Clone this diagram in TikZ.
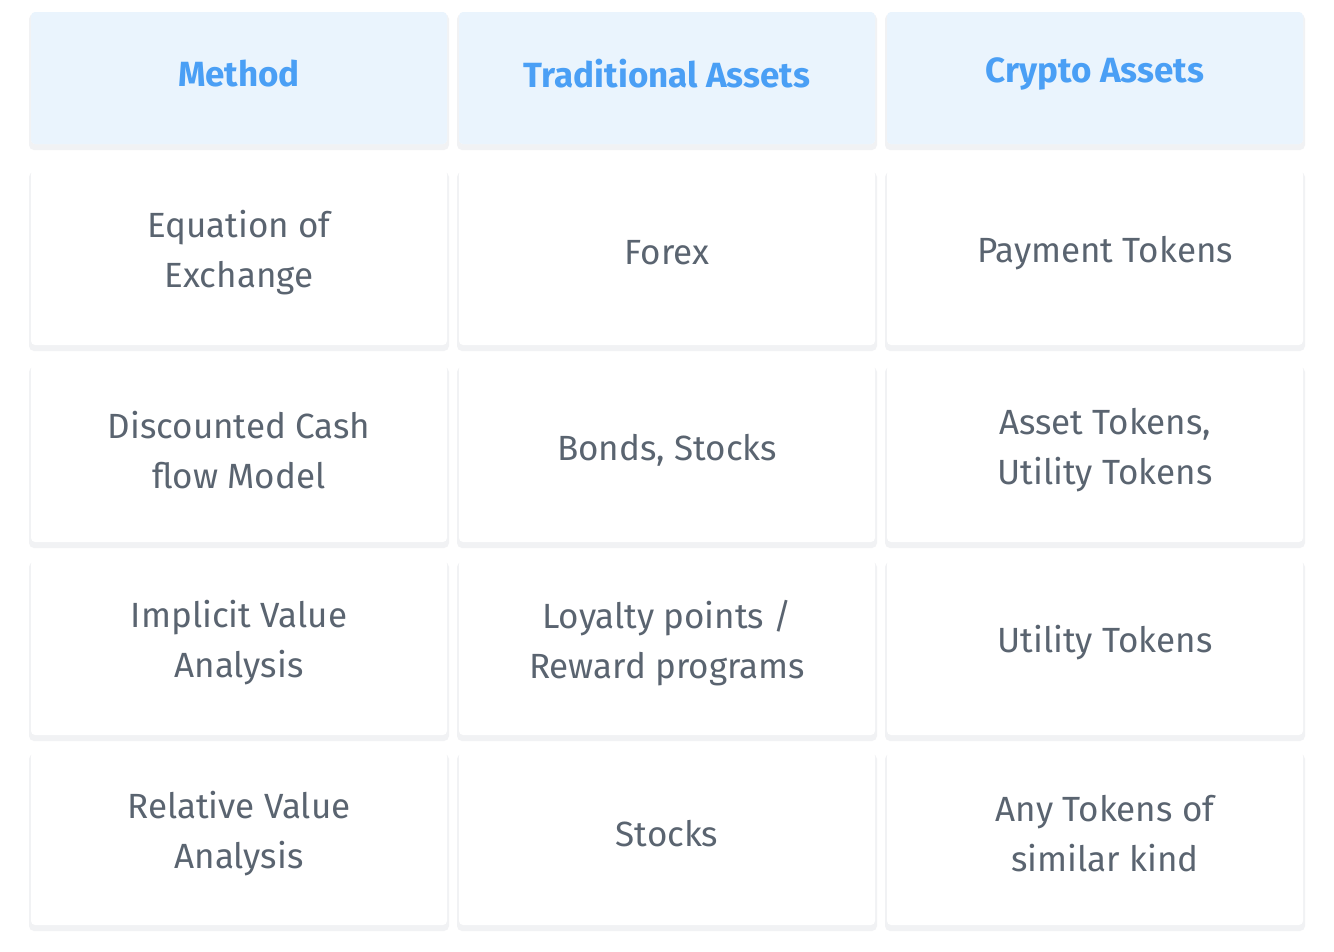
\documentclass[tikz,border=0pt]{standalone}
\usepackage{fontspec}
\setmainfont{Fira Sans}
\definecolor{hdrbg}{HTML}{EAF4FD}
\definecolor{hdrtx}{HTML}{4A9FF5}
\definecolor{celltx}{HTML}{5A6470}
\definecolor{shad}{HTML}{F1F2F4}
\begin{document}
\begin{tikzpicture}[x=1pt,y=-1pt,
  card/.style={rounded corners=4pt,align=center,inner sep=0pt,font=\fontsize{35}{50}\selectfont},
  hdr/.style={card,fill=hdrbg,text=hdrtx,font=\fontsize{35}{50}\selectfont\bfseries},
  cell/.style={card,fill=white,text=celltx}]
\useasboundingbox (0,0) rectangle (1334,951);
\fill[white] (0,0) rectangle (1334,951);
\def\cols{31/447,459/875,887/1303}
\def\rows{12/144,170/345,365/542,560/735,752/925}
\foreach \xa/\xb [count=\i] in \cols {
  \foreach \ya/\yb [count=\j] in \rows {
    \fill[shad,rounded corners=5pt] (\xa-2,\ya+2) rectangle (\xb+2,\yb+6);
    \fill[white,rounded corners=4pt] (\xa,\ya) rectangle (\xb,\yb);
  }
}
\foreach \xa/\xb [count=\i] in \cols {
  \fill[hdrbg,rounded corners=4pt] (\xa,12) rectangle (\xb,144);
}
\node[hdr,fill=none] (h1) at (239,74) {Method};
\node[hdr,fill=none] (h2) at (667,74) {Traditional Assets};
\node[hdr,fill=none] (h3) at (1095,74) {Crypto Assets};
\node[cell,fill=none] (a1) at (239,253) {Equation of\\Exchange};
\node[cell,fill=none] (a2) at (667,253) {Forex};
\node[cell,fill=none] (a3) at (1105,253) {Payment Tokens};
\node[cell,fill=none] (b1) at (239,450) {Discounted Cash\\flow Model};
\node[cell,fill=none] (b2) at (667,450) {Bonds, Stocks};
\node[cell,fill=none] (b3) at (1105,450) {Asset Tokens,\\Utility Tokens};
\node[cell,fill=none] (c1) at (239,643) {Implicit Value\\Analysis};
\node[cell,fill=none] (c2) at (667,643) {Loyalty points /\\Reward programs};
\node[cell,fill=none] (c3) at (1105,643) {Utility Tokens};
\node[cell,fill=none] (d1) at (239,834) {Relative Value\\Analysis};
\node[cell,fill=none] (d2) at (667,834) {Stocks};
\node[cell,fill=none] (d3) at (1105,834) {Any Tokens of\\similar kind};
\end{tikzpicture}
\end{document}
